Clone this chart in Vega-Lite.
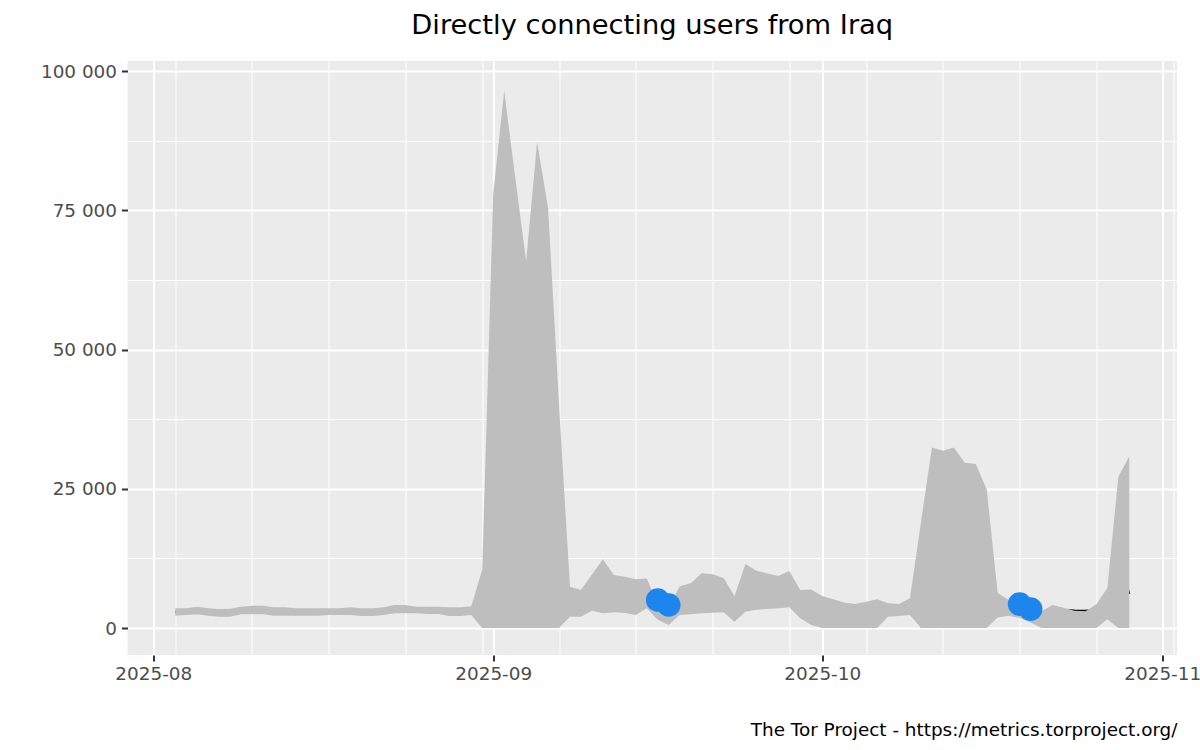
{
  "$schema": "https://vega.github.io/schema/vega-lite/v6.json",
  "width": 1049.5,
  "height": 594,
  "autosize": "none",
  "padding": {"left": 127.5, "top": 61, "right": 23, "bottom": 95},
  "background": "white",
  "title": {
    "text": "Directly connecting users from Iraq",
    "font": "DejaVu Sans",
    "fontSize": 27.3,
    "fontWeight": "normal",
    "color": "black",
    "anchor": "middle",
    "frame": "group",
    "baseline": "alphabetic",
    "offset": 0
  },
  "config": {
    "view": {"fill": "#EBEBEB", "stroke": null},
    "font": "DejaVu Sans",
    "axis": {"labelFont": "DejaVu Sans", "titleFont": "DejaVu Sans"}
  },
  "datasets": {
    "main": [
      {"date": "2025-08-03", "lower": 2210, "upper": 3530, "users": 2900},
      {"date": "2025-08-04", "lower": 2330, "upper": 3530, "users": 2950},
      {"date": "2025-08-05", "lower": 2450, "upper": 3830, "users": 3100},
      {"date": "2025-08-06", "lower": 2210, "upper": 3530, "users": 2850},
      {"date": "2025-08-07", "lower": 2030, "upper": 3400, "users": 2700},
      {"date": "2025-08-08", "lower": 2030, "upper": 3450, "users": 2750},
      {"date": "2025-08-09", "lower": 2450, "upper": 3830, "users": 3150},
      {"date": "2025-08-10", "lower": 2450, "upper": 4010, "users": 3250},
      {"date": "2025-08-11", "lower": 2450, "upper": 4010, "users": 3250},
      {"date": "2025-08-12", "lower": 2210, "upper": 3710, "users": 2950},
      {"date": "2025-08-13", "lower": 2210, "upper": 3710, "users": 2950},
      {"date": "2025-08-14", "lower": 2210, "upper": 3530, "users": 2850},
      {"date": "2025-08-15", "lower": 2210, "upper": 3530, "users": 2850},
      {"date": "2025-08-16", "lower": 2210, "upper": 3530, "users": 2850},
      {"date": "2025-08-17", "lower": 2330, "upper": 3530, "users": 2950},
      {"date": "2025-08-18", "lower": 2330, "upper": 3530, "users": 2950},
      {"date": "2025-08-19", "lower": 2330, "upper": 3710, "users": 3000},
      {"date": "2025-08-20", "lower": 2150, "upper": 3530, "users": 2850},
      {"date": "2025-08-21", "lower": 2150, "upper": 3530, "users": 2850},
      {"date": "2025-08-22", "lower": 2330, "upper": 3710, "users": 3000},
      {"date": "2025-08-23", "lower": 2630, "upper": 4130, "users": 3400},
      {"date": "2025-08-24", "lower": 2630, "upper": 4130, "users": 3400},
      {"date": "2025-08-25", "lower": 2630, "upper": 3830, "users": 3250},
      {"date": "2025-08-26", "lower": 2510, "upper": 3830, "users": 3150},
      {"date": "2025-08-27", "lower": 2510, "upper": 3830, "users": 3150},
      {"date": "2025-08-28", "lower": 2150, "upper": 3710, "users": 2950},
      {"date": "2025-08-29", "lower": 2150, "upper": 3710, "users": 2950},
      {"date": "2025-08-30", "lower": 2330, "upper": 3900, "users": 3100},
      {"date": "2025-08-31", "lower": 0, "upper": 10500, "users": 5200},
      {"date": "2025-09-01", "lower": 0, "upper": 78000, "users": 39000},
      {"date": "2025-09-02", "lower": 0, "upper": 96500, "users": 48000},
      {"date": "2025-09-03", "lower": 0, "upper": 81000, "users": 41000},
      {"date": "2025-09-04", "lower": 0, "upper": 65900, "users": 33000},
      {"date": "2025-09-05", "lower": 0, "upper": 87300, "users": 44000},
      {"date": "2025-09-06", "lower": 0, "upper": 75500, "users": 38000},
      {"date": "2025-09-07", "lower": 0, "upper": 40000, "users": 20000},
      {"date": "2025-09-08", "lower": 2030, "upper": 7400, "users": 4700},
      {"date": "2025-09-09", "lower": 2030, "upper": 6820, "users": 4400},
      {"date": "2025-09-10", "lower": 3110, "upper": 9600, "users": 6300},
      {"date": "2025-09-11", "lower": 2630, "upper": 12330, "users": 7500},
      {"date": "2025-09-12", "lower": 2810, "upper": 9510, "users": 6100},
      {"date": "2025-09-13", "lower": 2700, "upper": 9220, "users": 5900},
      {"date": "2025-09-14", "lower": 2330, "upper": 8740, "users": 5500},
      {"date": "2025-09-15", "lower": 3530, "upper": 8910, "users": 6200},
      {"date": "2025-09-16", "lower": 1500, "upper": 4300, "users": 5030},
      {"date": "2025-09-17", "lower": 540, "upper": 3600, "users": 4130},
      {"date": "2025-09-18", "lower": 2330, "upper": 7500, "users": 4900},
      {"date": "2025-09-19", "lower": 2450, "upper": 8020, "users": 5200},
      {"date": "2025-09-20", "lower": 2630, "upper": 9820, "users": 6200},
      {"date": "2025-09-21", "lower": 2750, "upper": 9640, "users": 6200},
      {"date": "2025-09-22", "lower": 2810, "upper": 9000, "users": 5900},
      {"date": "2025-09-23", "lower": 1140, "upper": 5740, "users": 3400},
      {"date": "2025-09-24", "lower": 2930, "upper": 11490, "users": 7200},
      {"date": "2025-09-25", "lower": 3300, "upper": 10290, "users": 6800},
      {"date": "2025-09-26", "lower": 3400, "upper": 9810, "users": 6600},
      {"date": "2025-09-27", "lower": 3530, "upper": 9340, "users": 6400},
      {"date": "2025-09-28", "lower": 3710, "upper": 10230, "users": 7000},
      {"date": "2025-09-29", "lower": 1740, "upper": 6820, "users": 4300},
      {"date": "2025-09-30", "lower": 540, "upper": 6910, "users": 3700},
      {"date": "2025-10-01", "lower": 0, "upper": 5740, "users": 2900},
      {"date": "2025-10-02", "lower": 0, "upper": 5150, "users": 2600},
      {"date": "2025-10-03", "lower": 0, "upper": 4600, "users": 2300},
      {"date": "2025-10-04", "lower": 0, "upper": 4310, "users": 2200},
      {"date": "2025-10-05", "lower": 0, "upper": 4720, "users": 2400},
      {"date": "2025-10-06", "lower": 0, "upper": 5150, "users": 2600},
      {"date": "2025-10-07", "lower": 2030, "upper": 4430, "users": 3200},
      {"date": "2025-10-08", "lower": 2150, "upper": 4310, "users": 3200},
      {"date": "2025-10-09", "lower": 2330, "upper": 5330, "users": 3800},
      {"date": "2025-10-10", "lower": 0, "upper": 19000, "users": 9500},
      {"date": "2025-10-11", "lower": 0, "upper": 32430, "users": 16000},
      {"date": "2025-10-12", "lower": 0, "upper": 31830, "users": 16000},
      {"date": "2025-10-13", "lower": 0, "upper": 32430, "users": 16000},
      {"date": "2025-10-14", "lower": 0, "upper": 29680, "users": 14800},
      {"date": "2025-10-15", "lower": 0, "upper": 29440, "users": 14700},
      {"date": "2025-10-16", "lower": 0, "upper": 24900, "users": 12400},
      {"date": "2025-10-17", "lower": 1900, "upper": 6300, "users": 4100},
      {"date": "2025-10-18", "lower": 2200, "upper": 5030, "users": 3600},
      {"date": "2025-10-19", "lower": 1800, "upper": 3700, "users": 4300},
      {"date": "2025-10-20", "lower": 1000, "upper": 3000, "users": 3400},
      {"date": "2025-10-21", "lower": 0, "upper": 3000, "users": 2600},
      {"date": "2025-10-22", "lower": 0, "upper": 4130, "users": 2900},
      {"date": "2025-10-23", "lower": 0, "upper": 3650, "users": 3250},
      {"date": "2025-10-24", "lower": 0, "upper": 3100, "users": 3150},
      {"date": "2025-10-25", "lower": 0, "upper": 3000, "users": 3100},
      {"date": "2025-10-26", "lower": 0, "upper": 4250, "users": 3300},
      {"date": "2025-10-27", "lower": 1560, "upper": 7180, "users": 4400},
      {"date": "2025-10-28", "lower": 0, "upper": 27160, "users": 13500},
      {"date": "2025-10-29", "lower": 0, "upper": 30870, "users": 6100}
    ],
    "outliers": [
      {"date": "2025-09-16", "users": 5030},
      {"date": "2025-09-17", "users": 4130},
      {"date": "2025-10-19", "users": 4300},
      {"date": "2025-10-20", "users": 3400}
    ]
  },
  "layer": [
    {
      "data": {"name": "main"},
      "mark": {"type": "line", "color": "black", "strokeWidth": 2},
      "encoding": {
        "x": {
          "field": "date", "type": "temporal",
          "scale": {"type": "utc", "nice": false, "domain": [
            {"year": 2025, "month": 7, "date": 29, "hours": 15, "minutes": 36, "utc": true},
            {"year": 2025, "month": 11, "date": 2, "hours": 8, "minutes": 24, "utc": true}
          ]},
          "axis": {
            "orient": "bottom", "title": null, "labels": false, "ticks": false, "domain": false,
            "grid": true, "gridColor": "white", "gridWidth": 1, "gridOpacity": 1,
            "values": [
              {"year": 2025, "month": 8, "date": 3, "utc": true},
              {"year": 2025, "month": 8, "date": 10, "utc": true},
              {"year": 2025, "month": 8, "date": 17, "utc": true},
              {"year": 2025, "month": 8, "date": 24, "utc": true},
              {"year": 2025, "month": 8, "date": 31, "utc": true},
              {"year": 2025, "month": 9, "date": 7, "utc": true},
              {"year": 2025, "month": 9, "date": 14, "utc": true},
              {"year": 2025, "month": 9, "date": 21, "utc": true},
              {"year": 2025, "month": 9, "date": 28, "utc": true},
              {"year": 2025, "month": 10, "date": 5, "utc": true},
              {"year": 2025, "month": 10, "date": 12, "utc": true},
              {"year": 2025, "month": 10, "date": 19, "utc": true},
              {"year": 2025, "month": 10, "date": 26, "utc": true},
              {"year": 2025, "month": 11, "date": 2, "utc": true}
            ]
          }
        },
        "y": {
          "field": "users", "type": "quantitative",
          "scale": {"domain": [-4850, 101850], "nice": false, "zero": false},
          "axis": {
            "orient": "left", "title": null, "labels": false, "ticks": false, "domain": false,
            "grid": true, "gridColor": "white", "gridWidth": 1, "gridOpacity": 1,
            "values": [12500, 37500, 62500, 87500]
          }
        }
      }
    },
    {
      "data": {"name": "main"},
      "mark": {"type": "area", "color": "#BEBEBE", "opacity": 1},
      "encoding": {
        "x": {
          "field": "date", "type": "temporal",
          "axis": {
            "orient": "bottom", "domain": false, "grid": true, "gridColor": "white", "gridWidth": 2, "gridOpacity": 1,
            "ticks": true, "tickColor": "#333333", "tickSize": 6, "tickWidth": 2,
            "labelFontSize": 18.4, "labelColor": "#4D4D4D", "labelPadding": 3,
            "labelOverlap": false, "labelBound": false, "labelFlush": false,
            "labelExpr": "utcFormat(datum.value, '%Y-%m')",
            "values": [
              {"year": 2025, "month": 8, "date": 1, "utc": true},
              {"year": 2025, "month": 9, "date": 1, "utc": true},
              {"year": 2025, "month": 10, "date": 1, "utc": true},
              {"year": 2025, "month": 11, "date": 1, "utc": true}
            ],
            "title": "The Tor Project - https://metrics.torproject.org/",
            "titleFontSize": 18.4, "titleFontWeight": "normal", "titleColor": "black",
            "titleAnchor": "end", "titleAlign": "right", "titleBaseline": "alphabetic",
            "titleX": 1049.5, "titleY": 80
          }
        },
        "y": {
          "field": "lower", "type": "quantitative",
          "axis": {
            "orient": "left", "title": null, "domain": false,
            "grid": true, "gridColor": "white", "gridWidth": 2, "gridOpacity": 1,
            "ticks": true, "tickColor": "#333333", "tickSize": 6, "tickWidth": 2,
            "labelFontSize": 18.4, "labelColor": "#4D4D4D", "labelPadding": 5,
            "values": [0, 25000, 50000, 75000, 100000],
            "labelExpr": "replace(format(datum.value, ','), regexp(',', 'g'), ' ')"
          }
        },
        "y2": {"field": "upper"}
      }
    },
    {
      "data": {"name": "outliers"},
      "mark": {"type": "point", "filled": true, "color": "#1C86EE", "size": 560, "opacity": 1, "strokeWidth": 0},
      "encoding": {
        "x": {"field": "date", "type": "temporal", "axis": null},
        "y": {"field": "users", "type": "quantitative", "axis": null}
      }
    }
  ],
  "resolve": {"axis": {"x": "independent", "y": "independent"}}
}
